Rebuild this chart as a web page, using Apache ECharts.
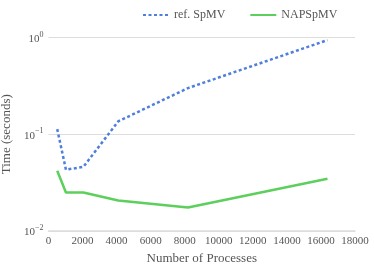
<!DOCTYPE html>
<html><head><meta charset="utf-8">
<script src="https://cdn.jsdelivr.net/npm/echarts@6/dist/echarts.min.js"></script>
<style>html,body{margin:0;padding:0;background:#fff}#c{width:374px;height:267px}</style>
</head><body><div id="c"></div>
<script>
const processes = [512, 1024, 2048, 4096, 8192, 16384];
const refSpMV = [0.113, 0.043, 0.046, 0.136, 0.30, 0.94];
const napSpMV = [0.042, 0.025, 0.025, 0.0207, 0.0175, 0.0346];
const seriesNames = ['ref. SpMV', 'NAPSpMV'];
const xTicks = [0, 2000, 4000, 6000, 8000, 10000, 12000, 14000, 16000, 18000];

const font = 'Liberation Serif';
const chart = echarts.init(document.getElementById('c'));
chart.setOption({
  animation: false,
  textStyle: {fontFamily: font},
  legend: {
    top: 4, left: 137, itemWidth: 26, itemHeight: 10, itemGap: 24,
    itemStyle: {opacity: 0},
    textStyle: {fontFamily: font, fontSize: 12, color: '#555'},
    data: seriesNames
  },
  grid: {left: 48.5, right: 19, top: 37.5, bottom: 36, outerBoundsMode: 'none', containLabel: false},
  xAxis: {
    type: 'value', min: 0, max: 18000, interval: 2000,
    name: 'Number of Processes', nameLocation: 'middle', nameGap: 20,
    nameTextStyle: {fontFamily: font, fontSize: 13, color: '#555'},
    axisLine: {show: true, lineStyle: {color: '#ddd', width: 1.5}},
    axisTick: {show: false},
    splitLine: {show: false},
    axisLabel: {fontFamily: font, fontSize: 11, color: '#555', margin: 5,
      formatter: v => String(v)}
  },
  yAxis: {
    type: 'log', logBase: 10, min: 0.01, max: 1,
    name: 'Time (seconds)', nameLocation: 'middle', nameGap: 27,
    nameTextStyle: {fontFamily: font, fontSize: 13, color: '#555'},
    axisLine: {show: false}, axisTick: {show: false}, minorTick: {show: false},
    splitLine: {show: true, lineStyle: {color: '#ddd', width: 1}},
    axisLabel: {
      margin: 5,
      formatter: v => { const k = Math.round(Math.log10(v)); const e = k === 0 ? '0' : '−' + (-k); return '{a|10}{s|' + e + '}'; },
      rich: {
        a: {fontFamily: font, fontSize: 11, color: '#555', lineHeight: 14, verticalAlign: 'bottom'},
        s: {fontFamily: font, fontSize: 8, color: '#555', lineHeight: 14, verticalAlign: 'top', padding: [0,0,4,0]}
      }
    }
  },
  series: [
    {
      name: seriesNames[0], type: 'line', showSymbol: false, symbol: 'none',
      data: processes.map((p, i) => [p, refSpMV[i]]),
      lineStyle: {color: '#4f7fdb', width: 2.5, type: [3, 2.5]},
      itemStyle: {color: '#4f7fdb'}
    },
    {
      name: seriesNames[1], type: 'line', showSymbol: false, symbol: 'none',
      data: processes.map((p, i) => [p, napSpMV[i]]),
      lineStyle: {color: '#5ccf5c', width: 2.5},
      itemStyle: {color: '#5ccf5c'}
    }
  ]
});
</script></body></html>
